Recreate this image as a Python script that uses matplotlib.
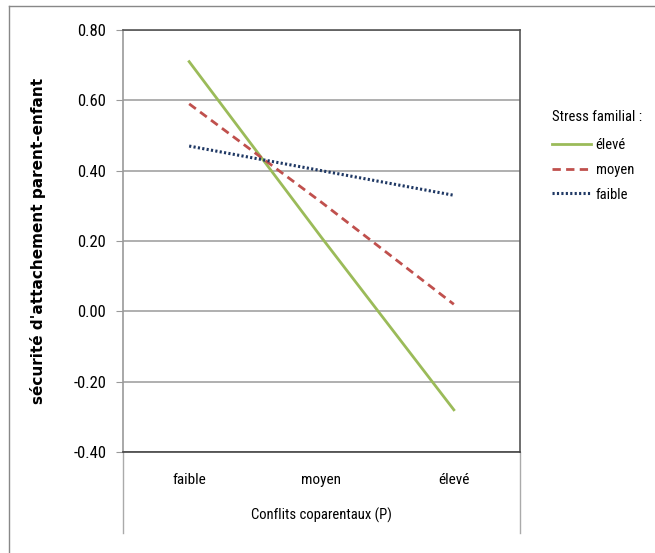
import matplotlib
matplotlib.use("Agg")
import matplotlib.pyplot as plt
from matplotlib import font_manager
from matplotlib.lines import Line2D

categories = ["faible", "moyen", "élevé"]
eleve = [0.71, 0.21, -0.28]
moyen = [0.59, 0.31, 0.02]
faible = [0.47, 0.40, 0.33]
yticks = [-0.40, -0.20, 0.00, 0.20, 0.40, 0.60, 0.80]

# the original uses a condensed font; take one if there is one
names = {f.name for f in font_manager.fontManager.ttflist}
narrow = "Liberation Sans"
for cand in ["Roboto Condensed", "Liberation Sans Narrow", "Open Sans Condensed"]:
    if cand in names:
        narrow = cand
        break

fig = plt.figure(figsize=(6.55, 5.53), dpi=100)
ax = fig.add_axes([123/655, 1 - 452/553, 397/655, 422/553])

x = range(len(categories))
ax.plot(x, eleve, color="#9BBB59", lw=2.0, label="élevé")
ax.plot(x, moyen, color="#C0504D", lw=2.0, ls=(0, (3, 1.9)), label="moyen")
ax.plot(x, faible, color="#1F3864", lw=2.2, ls=(0, (0.7, 0.75)), label="faible")

ax.set_xlim(-0.5, 2.5)
ax.set_ylim(-0.40, 0.80)
ax.set_yticks(yticks)
ax.set_yticklabels(["%.2f" % v for v in yticks], fontfamily=narrow, fontsize=12)
ax.set_xticks(list(x))
ax.set_xticklabels(categories, fontfamily=narrow, fontsize=11)
ax.tick_params(axis="x", length=0, pad=15)
ax.tick_params(axis="y", length=5, color="#999999", pad=7)

ax.yaxis.grid(True, color="#9a9a9a", lw=1.1)
ax.set_axisbelow(True)
ax.spines["left"].set_color("#9a9a9a")
ax.spines["top"].set_color("#555555")
ax.spines["right"].set_color("#555555")
ax.spines["bottom"].set_color("#444444")
for s in ax.spines.values():
    s.set_linewidth(1.2)

ax.set_xlabel("Conflits coparentaux (P)", fontfamily=narrow, fontsize=10.5)
ax.xaxis.set_label_coords(0.5, -(508 - 452) / 422)
ax.set_ylabel("sécurité d'attachement parent-enfant", fontsize=11, fontweight="bold")
ax.yaxis.set_label_coords((46 - 123) / 397, 0.5)

# plot-area border continuing below the axis
for xx in (0, 1):
    ax.add_line(Line2D([xx, xx], [0, -81/422], transform=ax.transAxes,
                       color="#aaaaaa", lw=1.0, clip_on=False))

# outer frame (left and top only, picture is cropped)
fig.add_artist(Line2D([9/655, 9/655], [0, 1 - 6/553], color="#888888", lw=1.0))
fig.add_artist(Line2D([9/655, 1], [1 - 6/553, 1 - 6/553], color="#888888", lw=1.0))

leg = fig.legend(loc="upper left", bbox_to_anchor=(546/655, 1 - 104/553),
                 frameon=False, title="Stress familial :", handlelength=2.7,
                 prop={"family": narrow, "size": 10.5}, labelspacing=0.75,
                 handletextpad=0.3, borderaxespad=0)
leg.get_title().set_fontfamily(narrow)
leg.get_title().set_fontsize(10.5)
leg._legend_box.align = "left"
leg._legend_box.sep = 10

fig.savefig("out.png", dpi=100)
